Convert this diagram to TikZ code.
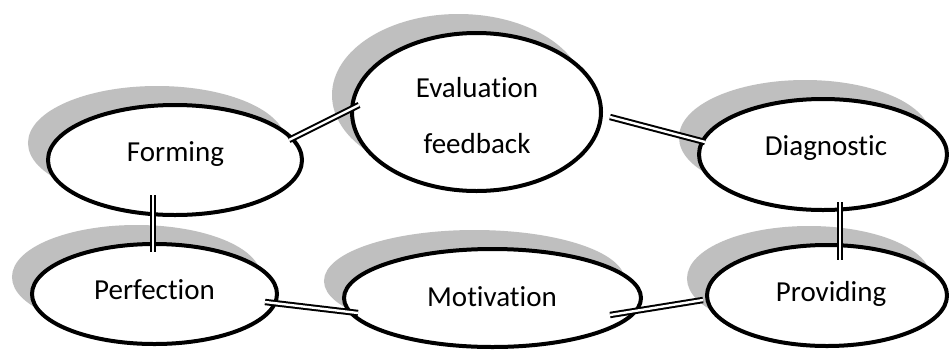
\documentclass[tikz,border=0pt]{standalone}
\usepackage{fontspec}
\setmainfont{Carlito}[Ligatures={NoCommon}]
\usetikzlibrary{shapes.geometric,shadows}
\definecolor{shadowgray}{HTML}{BFBFBF}
\begin{document}
\begin{tikzpicture}[x=1pt,y=-1pt,
  bub/.style={ellipse, draw=black, line width=4pt, fill=white, inner sep=0pt,
    general shadow={fill=shadowgray, draw=shadowgray, line width=4pt, shadow xshift=-18pt, shadow yshift=17pt}},
  lbl/.style={font=\fontsize{29pt}{35pt}\selectfont, anchor=base, inner sep=0pt},
  conn/.style={draw=black, line width=2pt, double=white, double distance=2.4pt}]
\useasboundingbox (0,0) rectangle (949,351);
\fill[white] (0,0) rectangle (949,351);

\node[bub, minimum width=254pt, minimum height=110pt] (forming) at (175,160) {};
\node[bub, minimum width=249pt, minimum height=158pt] (eval) at (476.5,112) {};
\node[bub, minimum width=248pt, minimum height=111pt] (diag) at (823,154.5) {};
\node[bub, minimum width=245pt, minimum height=100pt] (perf) at (154.5,294) {};
\node[bub, minimum width=297pt, minimum height=98pt] (motiv) at (492.5,298) {};
\node[bub, minimum width=240pt, minimum height=101pt] (prov) at (827,295.5) {};

\node[lbl] (tforming) at (175.5,161) {Forming};
\node[lbl] (teval1) at (477,97) {Evaluation};
\node[lbl] (teval2) at (477,153) {feedback};
\node[lbl] (tdiag) at (826,155) {Diagnostic};
\node[lbl] (tperf) at (154.5,299) {Perfection};
\node[lbl] (tmotiv) at (492,306) {Motivation};
\node[lbl] (tprov) at (831,301) {Providing};

\draw[conn] ([shift={(114,-20)}]forming.center) -- ([shift={(-117.5,-7)}]eval.center);
\draw[conn] ([shift={(133.5,5)}]eval.center) -- ([shift={(-118,-12.5)}]diag.center);
\draw[conn] ([shift={(-22,35)}]forming.center) -- ([shift={(-1.5,-42)}]perf.center);
\draw[conn] ([shift={(17,47.5)}]diag.center) -- ([shift={(13,-35.5)}]prov.center);
\draw[conn] ([shift={(110.5,8)}]perf.center) -- ([shift={(-134.5,15)}]motiv.center);
\draw[conn] ([shift={(117.5,17)}]motiv.center) -- ([shift={(-124,4.5)}]prov.center);
\end{tikzpicture}
\end{document}
